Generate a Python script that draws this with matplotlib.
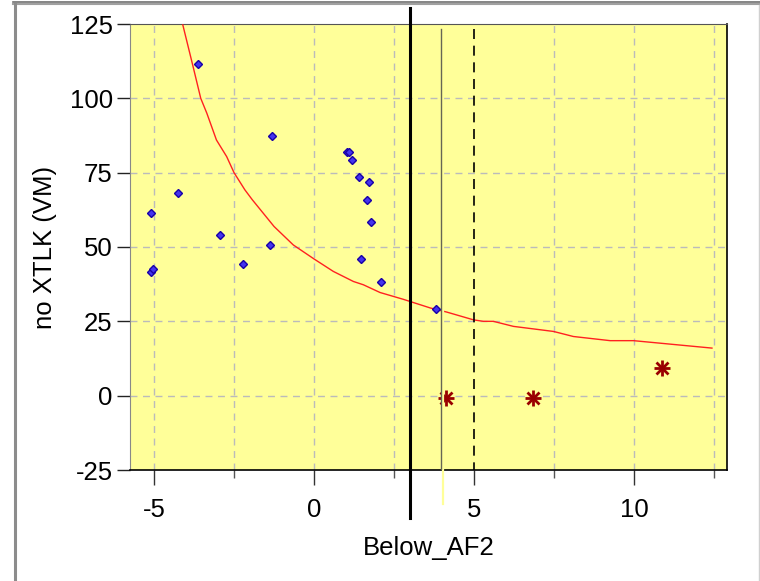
import matplotlib
matplotlib.use("Agg")
import matplotlib.pyplot as plt
from matplotlib.lines import Line2D
import numpy as np

plt.rcParams['font.family'] = ['Liberation Sans', 'DejaVu Sans']
plt.rcParams['axes.unicode_minus'] = False

# Blue diamond data points
pts_x = [-5.10, -5.10, -5.02, -4.24, -3.64, -2.94, -2.23, -1.375, -1.30,
         1.02, 1.10, 1.17, 1.40, 1.71, 1.64, 1.79, 1.48, 2.10, 3.81]
pts_y = [61.6, 41.7, 42.6, 68.3, 111.7, 54.1, 44.2, 50.8, 87.5,
         81.8, 81.8, 79.2, 73.4, 71.7, 65.9, 58.4, 45.8, 38.3, 29.1]

# Dark red asterisk points
star_x = [4.125, 6.83, 10.87]
star_y = [-0.8, -0.8, 9.2]

# Red fitted curve
fit_x = [-4.10, -3.78, -3.54, -3.35, -3.05, -2.73, -2.50, -2.16, -1.93, -1.25,
         -0.65, 0.01, 0.60, 1.23, 1.54, 2.06, 2.79, 3.63, 4.15, 4.98, 5.29,
         5.60, 6.23, 7.48, 8.10, 9.25, 9.98, 12.43]
fit_y = [124.7, 110.7, 100.0, 95.0, 86.0, 80.4, 75.0, 69.2, 65.9, 56.9,
         50.7, 45.9, 41.8, 38.4, 37.3, 34.7, 32.4, 29.5, 28.1, 25.5, 25.0,
         25.0, 23.3, 21.6, 19.9, 18.5, 18.5, 16.0]

# Reference vertical lines
thick_x = 3.0
thin_x = 3.96
dash_x = 5.0
yellow_x = 4.04

xticks = [-5, 0, 5, 10]
xminor = [-2.5, 2.5, 7.5, 12.5]
yticks = [-25, 0, 25, 50, 75, 100, 125]

W, H = 760, 581
fig = plt.figure(figsize=(W / 100, H / 100), dpi=100)
fig.patch.set_facecolor('white')

L, R, T, B = 130, 727, 24, 470
ax = fig.add_axes([L / W, 1 - B / H, (R - L) / W, (B - T) / H])
ax.set_facecolor('#FFFF99')
ax.set_xlim(-5.75, 12.9)
ax.set_ylim(-25, 125)

grid_kw = dict(color='#BBBBBB', lw=1.0, dashes=(5, 4), zorder=1)
for gx in [-5, -2.5, 0, 2.5, 7.5, 10, 12.5]:
    ax.axvline(gx, **grid_kw)
for gy in [0, 25, 50, 75, 100]:
    ax.axhline(gy, **grid_kw)

ax.set_xticks(xticks)
ax.set_xticks(xminor, minor=True)
ax.set_yticks(yticks)
ax.tick_params(axis='x', which='major', direction='out', length=11, width=1,
               color='#333333', pad=9, labelsize=18.5)
ax.tick_params(axis='x', which='minor', direction='out', length=6, width=1,
               color='#555555')
ax.tick_params(axis='y', which='major', direction='out', length=9.5, width=1,
               color='#222222', pad=3, labelsize=18.5)

for s in ['bottom', 'right']:
    ax.spines[s].set_color('black')
    ax.spines[s].set_linewidth(1.2)
ax.spines['top'].set_color('#555555')
ax.spines['left'].set_color('#888888')

ax.set_xlabel('Below_AF2', fontsize=18.5, labelpad=10)
ax.set_ylabel('no XTLK (VM)', fontsize=18.5, labelpad=9)

# fit curve
ax.plot(fit_x, fit_y, color='#FF2020', lw=1.0, zorder=3)

# data points
ax.plot(pts_x, pts_y, linestyle='none', marker='D', ms=4.2,
        mfc='#4433EE', mec='#1800A8', mew=1.0, zorder=4)

# asterisks
ax.plot(star_x, star_y, linestyle='none', marker='+', ms=12, mew=2.0,
        color='#990000', zorder=4)
ax.plot(star_x, star_y, linestyle='none', marker='x', ms=8.5, mew=2.0,
        color='#990000', zorder=4)

# vertical reference lines
ax.plot([yellow_x, yellow_x], [123.3, -36.5], color='#FFFF99', lw=1.6,
        clip_on=False, zorder=5)
ax.plot([thin_x, thin_x], [123.3, -25], color='#666655', lw=1.0, zorder=6)
ax.plot([dash_x, dash_x], [123.3, -25], color='black', lw=1.2,
        dashes=(6, 4), zorder=6)
ax.plot([thick_x, thick_x], [130.4, -41.0], color='black', lw=2.2,
        clip_on=False, zorder=7)

# window frame
def fline(xs, ys, **kw):
    fig.add_artist(Line2D([x / W for x in xs], [1 - y / H for y in ys],
                          transform=fig.transFigure, **kw))

fline([13, 760], [1.5, 1.5], color='#707070', lw=1.2)
fline([13, 760], [4, 4], color='#A0A0A0', lw=1.5)
fline([14.5, 14.5], [4, 581], color='#8C8C8C', lw=2.2)
fline([758.5, 758.5], [5, 581], color='#D0D0D0', lw=1.0)

fig.savefig('out.png', dpi=100, facecolor='white')
